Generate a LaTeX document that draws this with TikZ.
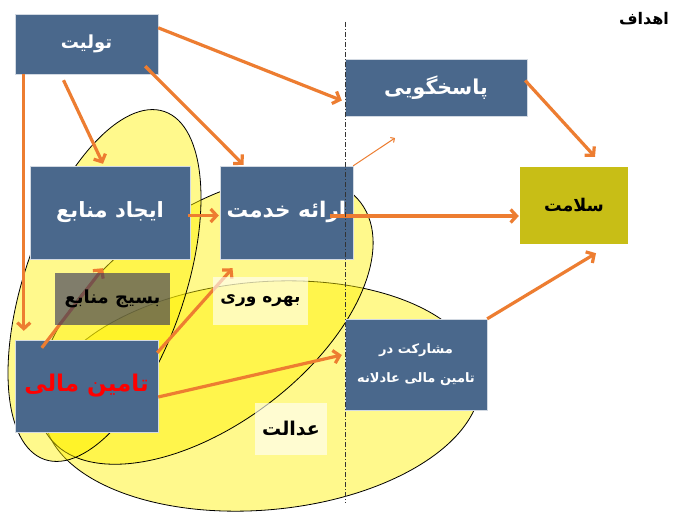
\documentclass[tikz,border=0pt]{standalone}
\usepackage{fontspec}
\usetikzlibrary{arrows.meta}
\TeXXeTstate=1
\newfontfamily\fa[Script=Arabic]{DejaVu Sans}
\definecolor{boxblue}{RGB}{74,104,140}
\definecolor{arrorange}{RGB}{237,125,49}
\definecolor{salcol}{RGB}{200,190,22}
\definecolor{basijcol}{RGB}{60,60,90}
\begin{document}
\begin{tikzpicture}[x=1pt,y=-1pt,
  elps/.style={fill=yellow, fill opacity=0.45, draw=black, draw opacity=1, line width=0.8pt},
  bluebox/.style={fill=boxblue, draw=white!75!boxblue, line width=0.4pt, inner sep=0pt, text=white, font=\fa\bfseries, align=center},
  lblbox/.style={inner sep=0pt, text opacity=1, text=black, font=\fa\bfseries},
  arr/.style={draw=arrorange, line width=3.2pt, -{Straight Barb[length=6pt,width=13pt]}},
  thinarr/.style={draw=arrorange, line width=1pt, -{Straight Barb[length=3pt,width=6pt]}},
  divline/.style={draw=black!80, line width=0.9pt, dash pattern=on 5pt off 2pt on 1pt off 2pt}
]
\fill[white] (0,0) rectangle (676,511);
\useasboundingbox (0,0) rectangle (676,511);

% ellipses
\draw[elps, rotate around={5:(262,396)}] (262,396) ellipse [x radius=219pt, y radius=114pt];
\draw[elps, rotate around={37:(205,320)}] (205,320) ellipse [x radius=195pt, y radius=105pt];
\draw[elps, rotate around={71:(104.5,285.5)}] (104.5,285.5) ellipse [x radius=184pt, y radius=80pt];

% boxes
\node[bluebox, minimum width=143pt, minimum height=60pt] (tolit) at (86.5,44) {\fontsize{18}{21}\selectfont\beginR تولیت\endR};
\node[bluebox, minimum width=182pt, minimum height=57pt] (pasokh) at (436,87.5) {\fontsize{20.5}{24}\selectfont\beginR پاسخگویی\endR};
\node[bluebox, minimum width=160pt, minimum height=93pt] (ijad) at (110,212.5) {\fontsize{21}{25}\selectfont\beginR ایجاد منابع\endR};
\node[bluebox, minimum width=133pt, minimum height=93pt] (erae) at (286.5,212.5) {\raisebox{7pt}{\fontsize{21.5}{25}\selectfont\beginR ارائه خدمت\endR}};
\node[fill=salcol, inner sep=0pt, minimum width=108pt, minimum height=77pt, font=\fa\bfseries] (salamat) at (574,205.5) {\fontsize{17.5}{21}\selectfont\beginR سلامت\endR};
\node[bluebox, minimum width=143pt, minimum height=92pt, text=red] (tamin) at (86.5,386) {\fontsize{23}{28}\selectfont\beginR تامین مالی\endR};
\node[bluebox, minimum width=142pt, minimum height=91pt, font={\fa\bfseries\fontsize{13}{29}\selectfont}] (mosh) at (416,364.5) {\beginR مشارکت در\endR\\\beginR تامین مالی عادلانه\endR};
\node[font=\fa\bfseries, inner sep=0pt] (ahdaf) at (644,19) {\fontsize{16}{19}\selectfont\beginR اهداف\endR};

\coordinate (c7) at (395,138);
\coordinate (dtop) at (345,22);
\coordinate (dbot) at (345,503);

% arrows
\draw[arr] ([yshift=-14pt]tolit.north east) -- ([xshift=-3pt,yshift=-13pt]pasokh.west);
\draw[arr] ([xshift=-13pt,yshift=8pt]tolit.south east) -- ([xshift=-43pt,yshift=1pt]erae.north);
\draw[arr] ([xshift=-23pt,yshift=-6pt]tolit.south) -- ([xshift=-7pt,yshift=2pt]ijad.north);
\draw[arr] ([xshift=9pt]tolit.south west) -- ([xshift=9pt,yshift=9pt]tamin.north west);
\draw[arr] ([xshift=-2pt,yshift=-3pt]ijad.east) -- ([xshift=-1pt,yshift=-3pt]erae.west);
\draw[arr] ([xshift=-23pt,yshift=-3.5pt]erae.east) -- ([xshift=-1pt,yshift=-10.5pt]salamat.west);
\draw[thinarr] (erae.north east) -- (c7);
\draw[arr] ([xshift=-2pt,yshift=7pt]pasokh.east) -- ([xshift=21pt,yshift=10pt]salamat.north);
\draw[arr] (mosh.north east) -- ([xshift=22pt,yshift=-9pt]salamat.south);
\draw[arr] ([yshift=-11pt]tamin.east) -- ([xshift=-3pt,yshift=9.5pt]mosh.west);
\draw[arr] ([xshift=27pt,yshift=-8pt]tamin.north west) -- ([xshift=-7pt,yshift=-9pt]ijad.south);
\draw[arr] ([xshift=-1pt,yshift=-13pt]tamin.north east) -- ([xshift=-54pt,yshift=-9pt]erae.south);

% label boxes
\node[lblbox, fill=basijcol, fill opacity=0.65, minimum width=115pt, minimum height=52pt] (basij) at (112.5,299) {\fontsize{18}{21}\selectfont\beginR بسیج منابع\endR};
\node[lblbox, fill=white, fill opacity=0.6, minimum width=95pt, minimum height=48pt] (bahre) at (260.5,301) {\fontsize{17}{20}\selectfont\beginR بهره وری\endR};
\node[lblbox, fill=white, fill opacity=0.6, minimum width=72pt, minimum height=52pt] (edalat) at (291,429) {\fontsize{19}{22}\selectfont\beginR عدالت\endR};

% divider
\draw[divline] (dtop) -- (dbot);
\end{tikzpicture}
\end{document}
